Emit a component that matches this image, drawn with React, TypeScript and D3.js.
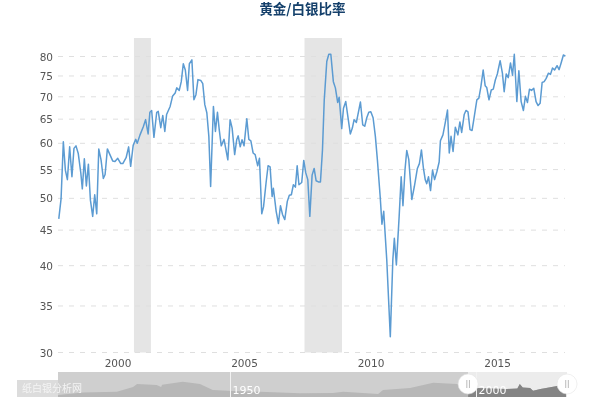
import React from "react";
import * as d3 from "d3";

const titleText = "黄金/白银比率";
const yTicks = [30, 35, 40, 45, 50, 55, 60, 65, 70, 75, 80];
const xTicks = [2000, 2005, 2010, 2015];
const recessions: [number, number][] = [[2000.63, 2001.3], [2007.37, 2008.85]];

const years = [
  1997.66,1997.75,1997.84,1997.92,1998.0,1998.09,1998.18,1998.26,1998.34,1998.43,1998.53,1998.59,1998.67,1998.75,1998.83,1998.91,
  1999.0,1999.08,1999.16,1999.24,1999.33,1999.42,1999.49,1999.58,1999.68,1999.79,1999.88,1999.99,
  2000.11,2000.19,2000.32,2000.42,2000.5,2000.6,2000.7,2000.76,2000.87,
  2001.0,2001.09,2001.19,2001.26,2001.33,2001.42,2001.53,2001.59,2001.69,2001.77,2001.85,2001.92,
  2002.06,2002.16,2002.26,2002.32,2002.42,2002.5,2002.58,2002.66,2002.75,2002.82,2002.92,
  2003.0,2003.08,2003.16,2003.27,2003.35,2003.43,2003.51,2003.59,2003.66,2003.77,2003.85,2003.93,
  2004.0,2004.08,2004.19,2004.34,2004.43,2004.51,2004.61,2004.69,2004.75,2004.83,2004.9,2004.98,
  2005.09,2005.17,2005.25,2005.34,2005.42,2005.52,2005.59,2005.68,2005.75,2005.85,2005.93,
  2006.01,2006.09,2006.14,2006.25,2006.34,2006.42,2006.5,2006.59,2006.69,2006.77,2006.85,2006.93,
  2007.01,2007.08,2007.15,2007.26,2007.34,2007.42,2007.5,2007.58,2007.67,2007.75,2007.83,2007.92,
  2008.0,2008.08,2008.15,2008.25,2008.33,2008.41,2008.51,2008.59,2008.68,2008.74,2008.84,2008.91,
  2009.0,2009.1,2009.18,2009.26,2009.33,2009.42,2009.58,2009.67,2009.75,2009.83,2009.91,2009.99,
  2010.08,2010.17,2010.25,2010.36,2010.43,2010.5,2010.62,2010.76,2010.86,2010.92,
  2011.0,2011.11,2011.19,2011.26,2011.34,2011.41,2011.49,2011.61,2011.71,2011.83,2011.91,2011.99,
  2012.07,2012.14,2012.2,2012.27,2012.35,2012.43,2012.51,2012.6,2012.69,2012.74,2012.84,2012.93,
  2013.02,2013.09,2013.16,2013.24,2013.33,2013.43,2013.51,2013.58,2013.68,2013.75,2013.83,2013.91,2013.99,
  2014.07,2014.18,2014.26,2014.34,2014.43,2014.51,2014.57,2014.66,2014.75,2014.83,2014.91,2014.99,
  2015.1,2015.19,2015.26,2015.34,2015.42,2015.51,2015.59,2015.66,2015.76,2015.84,2015.93,
  2016.02,2016.1,2016.18,2016.26,2016.34,2016.43,2016.52,2016.6,2016.68,2016.76,2016.84,2016.92,
  2017.01,2017.09,2017.17,2017.25,2017.35,2017.43,2017.51,2017.6,2017.68,
];
const ratios = [
  46.7,49.9,60.3,54.9,53.2,59.3,53.7,59.0,59.5,58.0,54.4,51.6,57.0,52.1,56.0,49.7,
  47.1,50.6,47.5,58.9,56.8,53.4,54.1,58.9,57.8,56.6,56.5,57.1,
  56.1,56.1,57.2,59.3,55.6,59.6,60.8,60,61.7,
  63.4,64.9,61.9,66.5,66.9,61.2,66.5,66.7,63.2,65.8,62.4,66,
  67.8,70.2,70.9,72.1,71.5,73.6,78.1,76.5,71.5,78.1,79.1,
  69.3,70.5,74.1,73.9,73.1,68.2,66.4,61.4,52,67.8,62.4,66.5,
  62.8,59.5,60.8,56.8,64.9,63.1,57.8,60.7,61.5,59.3,60.7,59.5,
  65.1,60.8,60.5,58.1,57.8,55.7,57.1,47.5,48.6,52.6,55.7,
  55.5,50.3,51.7,47.9,46,48.8,47.4,46.6,49.5,50.5,50.6,52.3,
  51.9,55.7,52.3,52.7,56.7,54.4,53.2,47.1,54,55.2,53,52.8,
  52.8,58.7,69.3,78.7,80.6,80.6,73.6,72.1,68.7,69.9,63,67.4,
  68.9,64.9,61.9,63.1,64.9,64.3,68.8,63.8,63.5,65.3,66.5,66.6,
  65.3,61.4,56.8,50.3,45.9,47.9,40.8,31.6,40.8,43.8,
  40.1,47.1,53.7,48.8,54.9,58.6,56.9,49.8,52,55.2,56.1,58.7,
  55.2,53.2,52.5,53.7,51.3,54.9,53.2,54.6,56.4,60.5,61.7,64.2,
  67,58.1,61.4,58.4,63.3,61.7,64.4,62.2,66,66.9,66.6,62.8,62.6,
  65.3,69.3,69.7,72.4,76.5,72.6,72.2,69.3,71.6,71.8,74,75.5,
  78.9,75.7,71.2,75.5,74.6,78.3,75.2,80.6,68.9,76.3,68.9,
  66.9,70.1,68.7,71.8,71.5,72,68.9,68,68.5,73.4,73.6,74.4,
  75.7,75.4,77,76.5,77.6,76.6,78.3,80.4,80.1,
];

const navYears = [1914.9,1920,1926.9,1930.2,1931,1935,1935.9,1936.1,1940.3,1943.8,1946.4,1950.5,1957.4,1964.1,1970.8,1972.9,1977.7,1980,1981,1986.5,1991.2,1996,1998,1999.9,2006.2,2008.3,2008.8,2009.4,2010.9,2011.5,2013,2016.4,2018.2];
const navValues = [8,18,21,40,52,48,40,49,61,52,28,24,20,15,16,21,15,12,28,36,57,52,41,36,32,34,52,38,36,25,32,44,44];
const navTicks = [1950, 2000];
const selection = [1998.3, 2018.4];

const W = 600, H = 402;
const x = d3.scaleLinear().domain([2000, 2015]).range([118, 497.6]);
const y = d3.scaleLog().domain([30, 80]).range([352.5, 56.5]);
const nx = d3.scaleLinear().domain([1950, 2000]).range([230.5, 476.5]);
const ny = d3.scaleLinear().domain([0, 100]).range([397, 372]);

const FONT = "'DejaVu Sans', sans-serif";

export default function App() {
  const line = d3.line<number>().x((d) => x(d)).y((_, i) => y(ratios[i]));
  const area = d3.area<number>().x((d) => nx(d)).y0(397).y1((_, i) => ny(navValues[i]));
  const sel0 = nx(selection[0]);
  const sel1 = nx(selection[1]);
  return (
    <svg width={W} height={H} viewBox={`0 0 ${W} ${H}`} style={{ position: "absolute", left: 0, top: 0, background: "#fff" }}>
      <defs>
        <filter id="soft" x="-5%" y="-5%" width="110%" height="110%">
          <feGaussianBlur stdDeviation="0.3" />
        </filter>
        <clipPath id="selClip">
          <rect x={sel0} y={372} width={sel1 - sel0} height={25} />
        </clipPath>
        <clipPath id="navClip">
          <rect x={58} y={372} width={sel1 - 58} height={25} />
        </clipPath>
      </defs>
      <g filter="url(#soft)">
        <text x={302.5} y={13.5} textAnchor="middle" fontFamily="'Noto Sans CJK SC', sans-serif" fontWeight={700} fontSize={13.5} fill="#123f6b">
          {titleText}
        </text>
        {recessions.map(([a, b]) => (
          <rect key={a} x={x(a)} y={38} width={x(b) - x(a)} height={314.5} fill="#e5e5e5" />
        ))}
        {yTicks.map((t) => (
          <g key={t}>
            <line x1={58} x2={565} y1={y(t)} y2={y(t)} stroke="#dfdfdf" strokeWidth={1} strokeDasharray="5 6" />
            <text x={53} y={y(t) + 4} textAnchor="end" fontFamily={FONT} fontSize={10.5} fill="#555">
              {t}
            </text>
          </g>
        ))}
        {xTicks.map((t) => (
          <text key={t} x={x(t)} y={367} textAnchor="middle" fontFamily={FONT} fontSize={10.5} fill="#555">
            {t}
          </text>
        ))}
        <path d={line(years) ?? ""} fill="none" stroke="#5b9bd2" strokeWidth={1.5} strokeLinejoin="round" />

        <rect x={17} y={380} width={41} height={17} fill="#dcdcdc" />
        <rect x={58} y={372} width={sel0 - 58} height={25} fill="#cfcfcf" />
        <rect x={sel0} y={372} width={sel1 - sel0} height={25} fill="#ececec" />
        <path d={area(navYears) ?? ""} fill="#b7b7b7" clipPath="url(#navClip)" />
        <path d={area(navYears) ?? ""} fill="#848484" clipPath="url(#selClip)" />
        {navTicks.map((t) => (
          <g key={t}>
            <line x1={nx(t)} x2={nx(t)} y1={372} y2={397} stroke="#f2f2f2" strokeWidth={1} />
            <text x={nx(t) + 2} y={394} fontFamily={FONT} fontSize={11} fill="#fff">
              {t}
            </text>
          </g>
        ))}
        <text x={22} y={392} fontFamily="'Noto Sans CJK SC', serif" fontSize={10} fill="#f4f4f4">
          纸白银分析网
        </text>
        {selection.map((s) => (
          <g key={s}>
            <circle cx={nx(s)} cy={384} r={10} fill="#fff" stroke="#e6e6e6" strokeWidth={0.6} />
            <line x1={nx(s) - 1.3} x2={nx(s) - 1.3} y1={380} y2={388} stroke="#bbb" strokeWidth={1} />
            <line x1={nx(s) + 1.3} x2={nx(s) + 1.3} y1={380} y2={388} stroke="#bbb" strokeWidth={1} />
          </g>
        ))}
      </g>
    </svg>
  );
}
